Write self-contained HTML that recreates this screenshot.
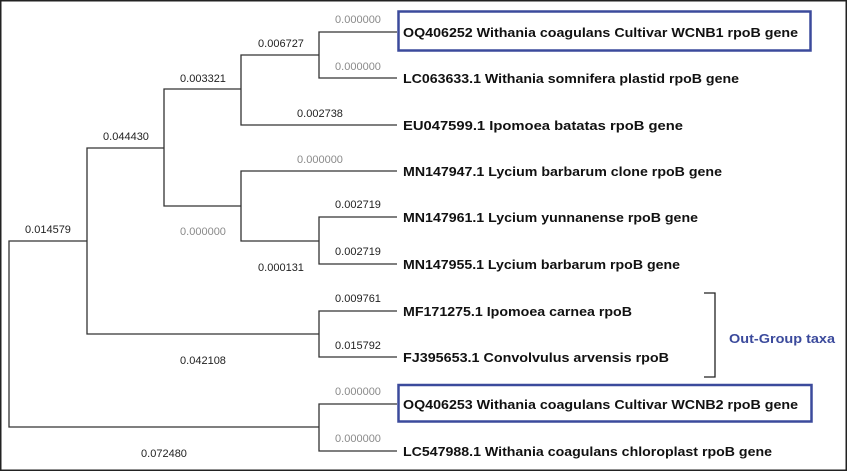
<!DOCTYPE html>
<html><head><meta charset="utf-8"><style>
html,body{margin:0;padding:0;background:#fff}
svg{display:block}
.n{font-family:"Liberation Sans",sans-serif;font-size:11px;fill:#222;text-anchor:middle}
.g{fill:#8a8a8a}
.l{font-family:"Liberation Sans",sans-serif;font-size:13px;font-weight:bold;fill:#111}
</style></head><body>
<svg width="848" height="472" viewBox="0 0 848 472" xmlns="http://www.w3.org/2000/svg">
<rect x="0.75" y="0.75" width="845.5" height="469.5" fill="#fff" stroke="#222" stroke-width="1.5"/>
<g stroke="#333" stroke-width="1.3" fill="none">
<!-- root -->
<path d="M87 241H9V427H319"/>
<path d="M164 148H87V334H319"/>
<path d="M241 89H164V206H241"/>
<path d="M319 55H241V125H397"/>
<path d="M397 32H319V78H397"/>
<path d="M397 171H241V241H319"/>
<path d="M397 217H319V264H397"/>
<path d="M397 311H319V357H397"/>
<path d="M397 404H319V451H397"/>
<!-- bracket -->
<path d="M704 293H715V377H704" stroke="#222"/>
</g>
<rect x="398.5" y="11.5" width="412" height="39" fill="none" stroke="#3b4a9c" stroke-width="2.5"/>
<rect x="398.5" y="385" width="413" height="36.5" fill="none" stroke="#3b4a9c" stroke-width="2.5"/>
<g class="n">
<text x="358" y="23" class="g">0.000000</text>
<text x="281" y="47">0.006727</text>
<text x="358" y="70" class="g">0.000000</text>
<text x="203" y="82">0.003321</text>
<text x="320" y="117">0.002738</text>
<text x="126" y="140">0.044430</text>
<text x="320" y="163" class="g">0.000000</text>
<text x="358" y="208">0.002719</text>
<text x="48" y="233">0.014579</text>
<text x="203" y="235" class="g">0.000000</text>
<text x="358" y="255">0.002719</text>
<text x="281" y="271">0.000131</text>
<text x="358" y="302">0.009761</text>
<text x="358" y="349">0.015792</text>
<text x="203" y="364">0.042108</text>
<text x="358" y="395" class="g">0.000000</text>
<text x="358" y="442" class="g">0.000000</text>
<text x="164" y="457">0.072480</text>
</g>
<g class="l">
<text x="403" y="37" textLength="395" lengthAdjust="spacingAndGlyphs">OQ406252 Withania coagulans Cultivar WCNB1 rpoB gene</text>
<text x="403" y="83" textLength="336" lengthAdjust="spacingAndGlyphs">LC063633.1 Withania somnifera plastid rpoB gene</text>
<text x="403" y="130" textLength="280" lengthAdjust="spacingAndGlyphs">EU047599.1 Ipomoea batatas rpoB gene</text>
<text x="403" y="176" textLength="319" lengthAdjust="spacingAndGlyphs">MN147947.1 Lycium barbarum clone rpoB gene</text>
<text x="403" y="222" textLength="295" lengthAdjust="spacingAndGlyphs">MN147961.1 Lycium yunnanense rpoB gene</text>
<text x="403" y="269" textLength="277" lengthAdjust="spacingAndGlyphs">MN147955.1 Lycium barbarum rpoB gene</text>
<text x="403" y="316" textLength="229" lengthAdjust="spacingAndGlyphs">MF171275.1 Ipomoea carnea rpoB</text>
<text x="403" y="362" textLength="266" lengthAdjust="spacingAndGlyphs">FJ395653.1 Convolvulus arvensis rpoB</text>
<text x="403" y="409" textLength="395" lengthAdjust="spacingAndGlyphs">OQ406253 Withania coagulans Cultivar WCNB2 rpoB gene</text>
<text x="403" y="456" textLength="369" lengthAdjust="spacingAndGlyphs">LC547988.1 Withania coagulans chloroplast rpoB gene</text>
<text x="729" y="343" textLength="106" lengthAdjust="spacingAndGlyphs" style="fill:#3b4a9c">Out-Group taxa</text>
</g>
</svg>
</body></html>
